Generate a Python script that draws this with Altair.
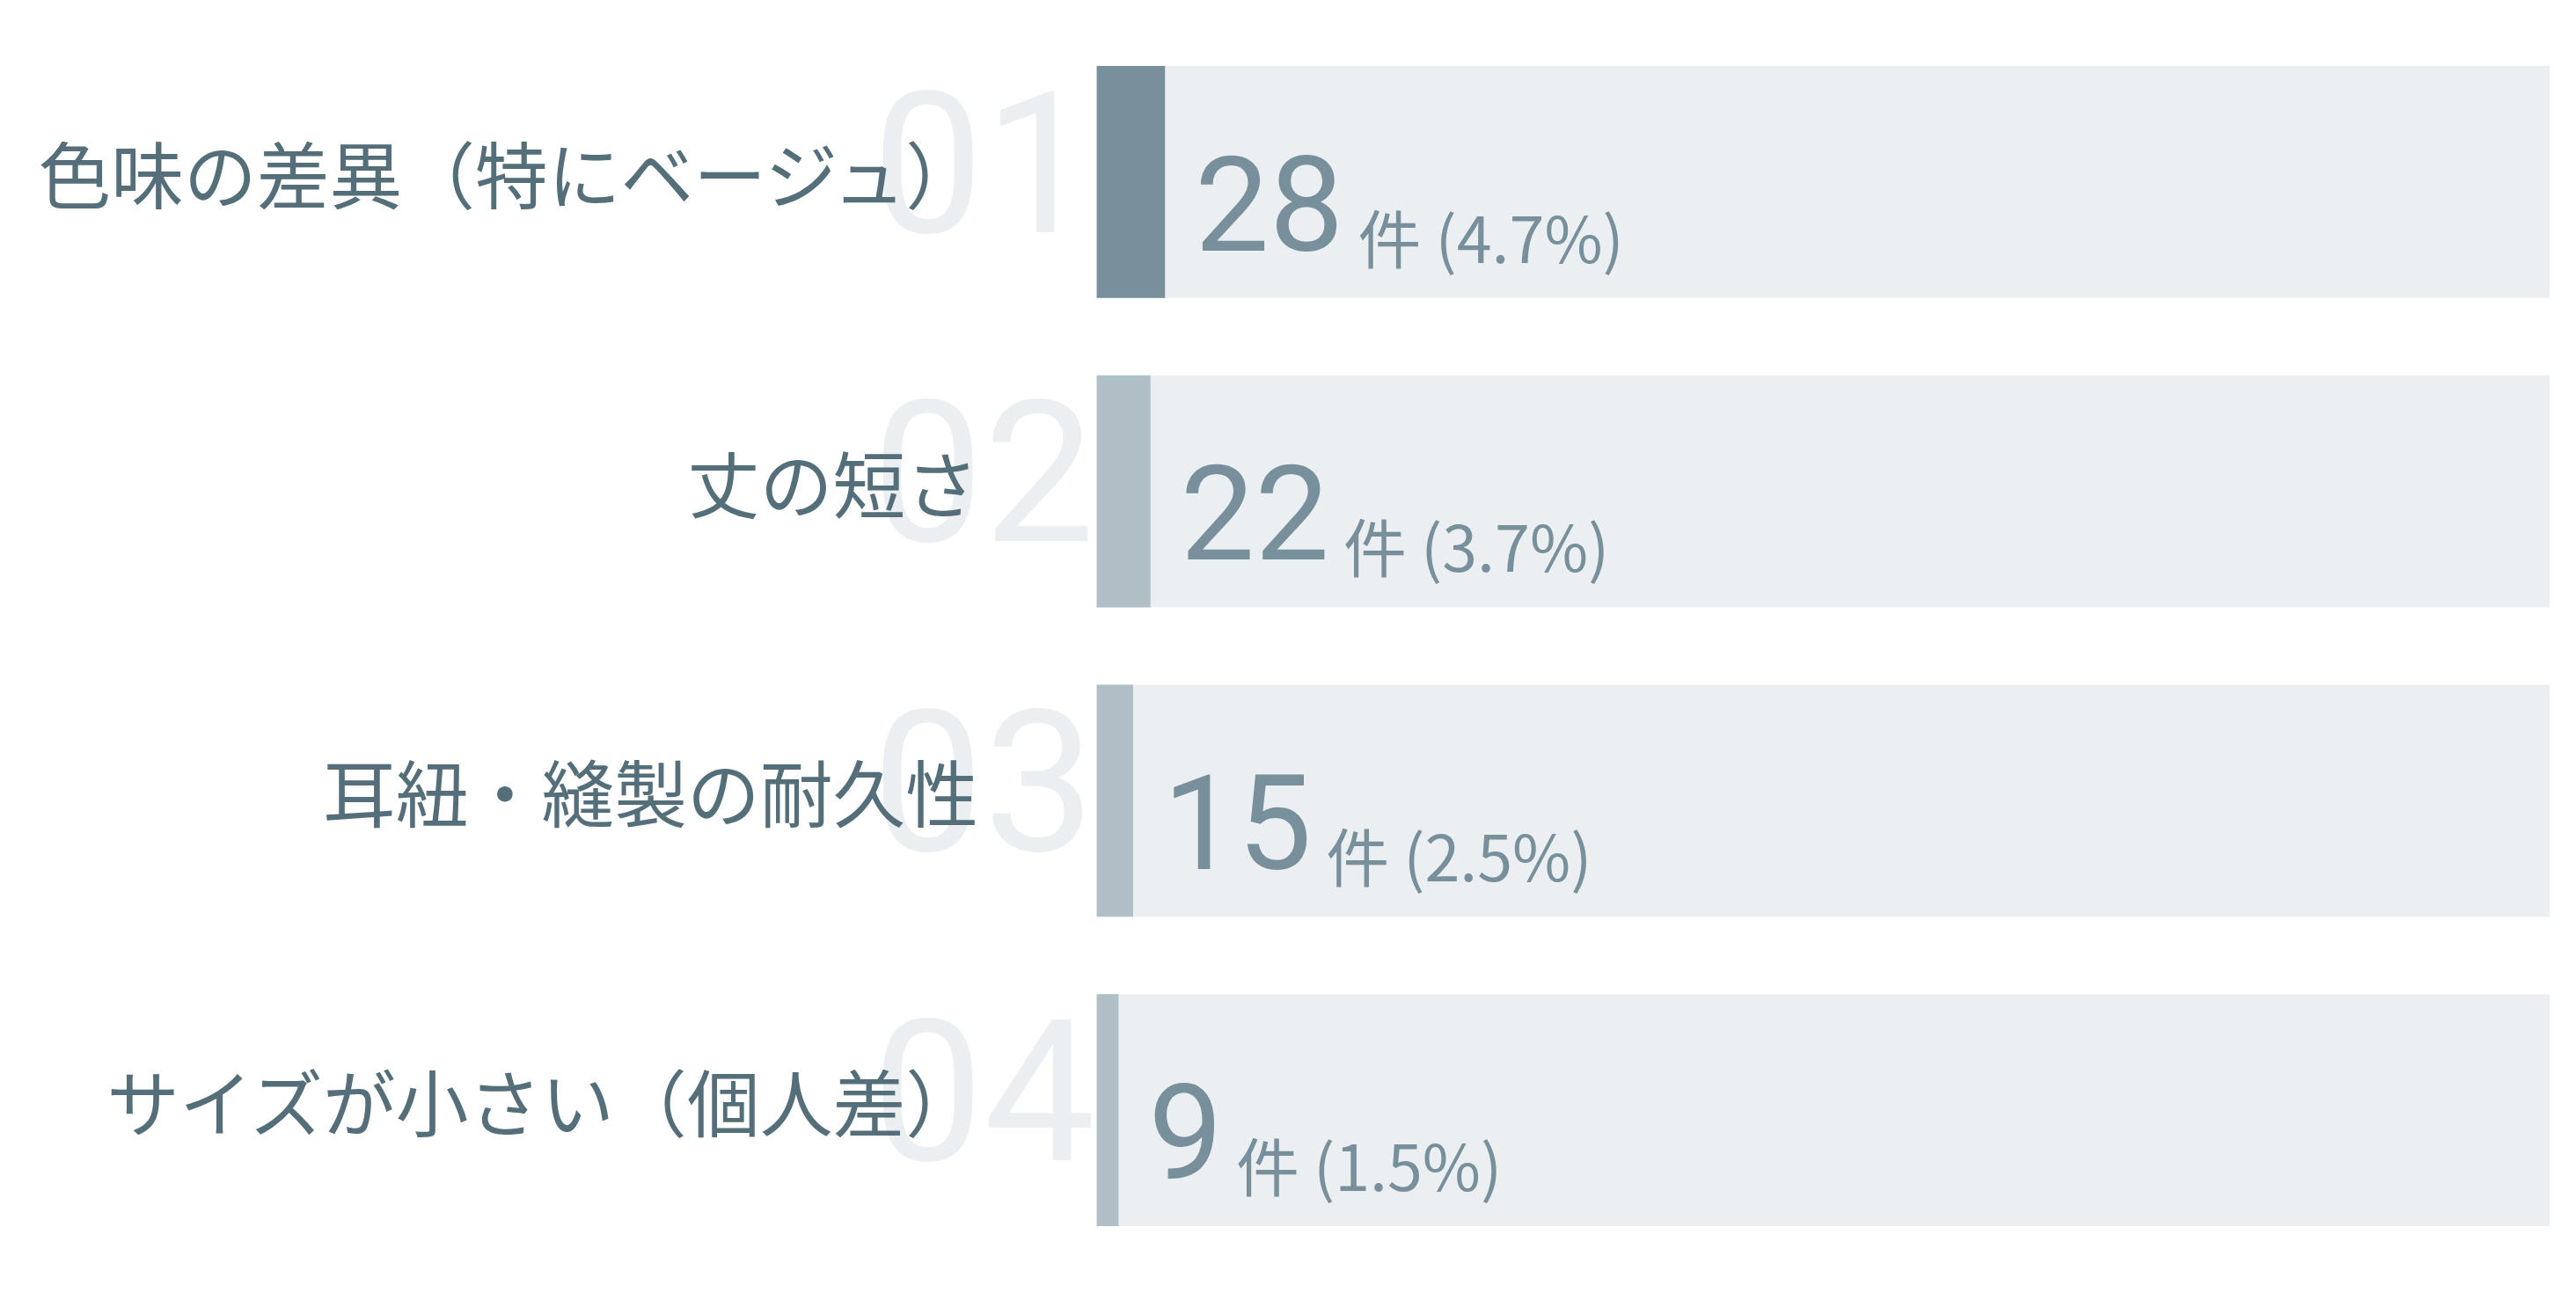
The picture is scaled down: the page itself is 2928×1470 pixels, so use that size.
import altair as alt
import pandas as pd

# ---- data ----
categories = ["色味の差異（特にベージュ）", "丈の短さ", "耳紐・縫製の耐久性", "サイズが小さい（個人差）"]
ranks = ["01", "02", "03", "04"]
counts = [28, 22, 15, 9]
percents = [4.7, 3.7, 2.5, 1.5]

df = pd.DataFrame({
    "category": categories,
    "rank": ranks,
    "count": counts,
    "pct": percents,
})
df["order"] = list(range(1, len(categories) + 1))
df["suffix"] = ["件 (" + f"{p:.1f}" + "%)" for p in percents]

W = 1656
H = 1411
PX_PER_UNIT = W / 100.0

xscale = alt.Scale(domain=[0, 100], nice=False, zero=True)
yenc = alt.Y("category:N", sort=categories, axis=None,
             scale=alt.Scale(paddingInner=0.25, paddingOuter=0.125))

base = alt.Chart(df)

track = base.mark_bar(color="#eceff1").encode(
    x=alt.X(datum=100, scale=xscale, axis=None),
    y=yenc,
)

bars = base.mark_bar().encode(
    x=alt.X("pct:Q", scale=xscale, axis=None),
    y=yenc,
    color=alt.condition(alt.datum.order == 1, alt.value("#78909c"), alt.value("#b0bec5")),
)

rank_text = base.mark_text(
    align="right", baseline="alphabetic", dx=-2, dy=57,
    fontSize=226, font="Roboto", color="#eceff1",
).encode(
    x=alt.X(datum=0, scale=xscale, axis=None),
    y=yenc,
    text="rank:N",
)

label_text = base.mark_text(
    align="right", baseline="middle", dx=-135, dy=-1,
    fontSize=83, font="Noto Sans CJK JP", color="#546e7a",
).encode(
    x=alt.X(datum=0, scale=xscale, axis=None),
    y=yenc,
    text="category:N",
)

num_text = base.mark_text(
    align="left", baseline="alphabetic", dx=34, dy=78,
    fontSize=151, font="Roboto", color="#78909c",
).encode(
    x=alt.X("pct:Q", scale=xscale, axis=None),
    y=yenc,
    text="count:Q",
)

suffix_text = base.transform_calculate(
    sx=f"datum.pct + (48 + 86 * length(toString(datum.count))) / {PX_PER_UNIT}"
).mark_text(
    align="left", baseline="alphabetic", dx=0, dy=92,
    fontSize=72, font="Noto Sans CJK JP", color="#78909c",
).encode(
    x=alt.X("sx:Q", scale=xscale, axis=None),
    y=yenc,
    text="suffix:N",
)

chart = alt.layer(track, bars, rank_text, label_text, num_text, suffix_text).properties(
    width=W,
    height=H,
    autosize=alt.AutoSizeParams(type="none"),
    padding={"left": 1242, "top": 21, "right": 22, "bottom": 30},
    background="white",
).configure_view(stroke=None)

chart.save("out.html", embed_options={"renderer": "svg", "actions": False})
